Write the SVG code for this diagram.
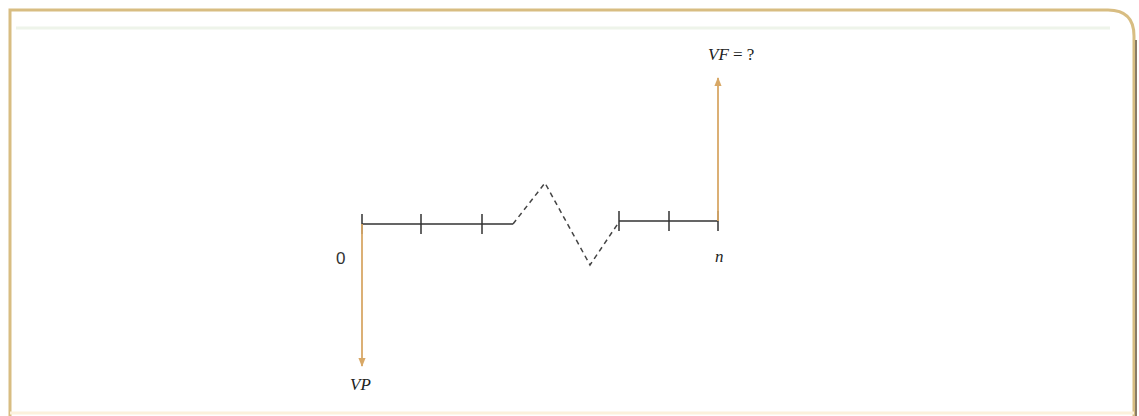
<svg xmlns="http://www.w3.org/2000/svg" width="1139" height="416" viewBox="0 0 1139 416">
<defs>
<style>
.axis{stroke:#333;stroke-width:1.5;fill:none}
.dash{stroke:#444;stroke-width:1.5;fill:none;stroke-dasharray:5,4}
.flow{stroke:#d8a866;stroke-width:1.8;fill:none}
.lbl{font-family:"Liberation Serif",serif;font-style:italic;font-size:17px;fill:#222}
.num{font-family:"Liberation Sans",sans-serif;font-size:17px;fill:#333}
</style>
<marker id="ah" viewBox="0 0 10 10" refX="9" refY="5" markerWidth="9" markerHeight="9" orient="auto" markerUnits="userSpaceOnUse">
<path d="M0,1 L10,5 L0,9 Z" fill="#d8a866"/>
</marker>
</defs>
<rect width="1139" height="416" fill="#fff"/>
<g id="frame">
<path d="M10,416 L10,10 L1108,10 Q1134,10 1134,36 L1134,416" fill="#fff" stroke="#d8bd82" stroke-width="3"/>
<line x1="1136" y1="40" x2="1136" y2="416" stroke="#8a7d66" stroke-width="2"/>
<line x1="16" y1="28" x2="1110" y2="28" stroke="#eef4ea" stroke-width="3"/>
<line x1="10" y1="413" x2="1134" y2="413" stroke="#fcf1dc" stroke-width="3"/>
</g>
<g id="connectors">
<path class="axis" d="M362,224 H513 M362,214 V234 M421,214 V234 M482,214 V234"/>
<path class="dash" d="M513,224 L545,183 L590,265 L619,222"/>
<path class="axis" d="M619,221 H718 M619,211 V231 M669,211 V231 M718,211 V231"/>
<line class="flow" x1="718" y1="221" x2="718" y2="78" marker-end="url(#ah)"/>
<line class="flow" x1="362" y1="224" x2="362" y2="366" marker-end="url(#ah)"/>
</g>
<g id="node-VF"><text class="lbl" x="708" y="60">VF<tspan font-style="normal"> = ?</tspan></text></g>
<g id="node-VP"><text class="lbl" x="350" y="390">VP</text></g>
<g id="node-0"><text class="num" x="336" y="264">0</text></g>
<g id="node-n"><text class="lbl" x="715" y="262">n</text></g>
</svg>
